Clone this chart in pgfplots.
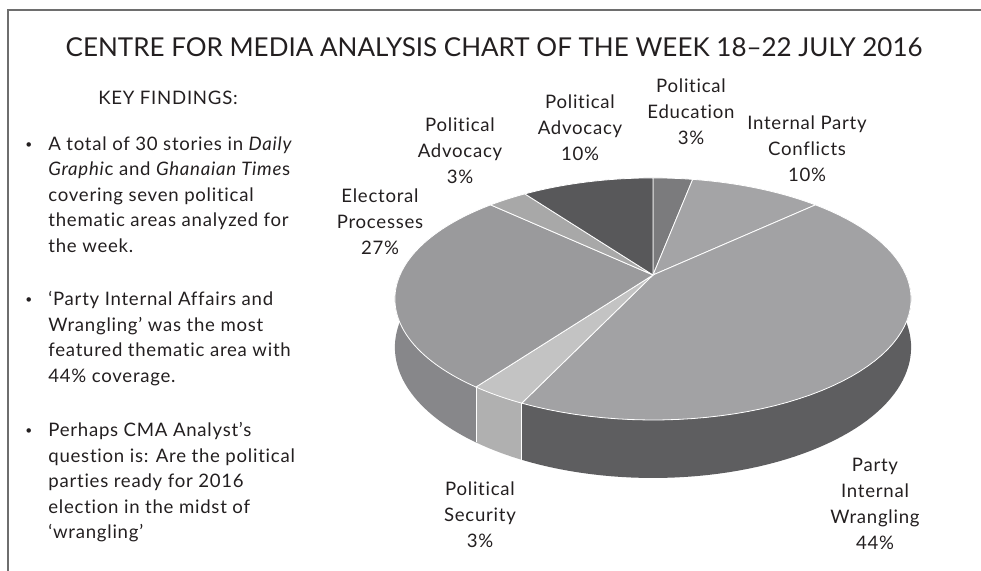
\documentclass[border=0pt]{standalone}
\usepackage{fontspec}
\setmainfont{Lato}[Ligatures={NoCommon}]
\usepackage{pgfplots}
\usepackage{pgfplotstable}
\pgfplotsset{compat=1.18}
\usepgfplotslibrary{fillbetween}

\definecolor{cEd}{HTML}{7B7B7D}
\definecolor{cIPC}{HTML}{A4A4A6}
\definecolor{cWr}{HTML}{A2A2A4}
\definecolor{cSec}{HTML}{C3C3C3}
\definecolor{cEl}{HTML}{9A9A9C}
\definecolor{cAdA}{HTML}{A8A8A8}
\definecolor{cAdB}{HTML}{58585A}
\definecolor{sWr}{HTML}{5E5E60}
\definecolor{sSec}{HTML}{B0B0B0}
\definecolor{sEl}{HTML}{87878A}
\definecolor{framec}{HTML}{6E6E6E}
\definecolor{txt}{HTML}{231F20}

\pgfplotstableread{
label pct
Education 3
Conflicts 10
Wrangling 44
Security 3
Electoral 27
AdvocacyA 3
AdvocacyB 10
}\piedata

\tikzset{declare function={
 PX(\a)=653+253*cos(\a)/(1+0.198*sin(\a));
 PY(\a)=275-116.3*sin(\a)/(1+0.198*sin(\a));
 PB(\a)=275+(46.5-116.3*sin(\a))/(1+0.198*sin(\a));
}}

\newcommand\bnd[1]{\csname bnd#1\endcsname}
\newcommand\pieslice[3]{\addplot[fill=#3, draw=white, line width=0.4pt, domain=#1:#2, samples=60, variable=\t] ({PX(\t)},{PY(\t)}) -- (axis cs:653,275) -- cycle;}
\newcommand\pieside[4]{%
 \addplot[draw=none, name path=#4t, domain=#1:#2, samples=60, variable=\t] ({PX(\t)},{PY(\t)});
 \addplot[draw=none, name path=#4b, domain=#1:#2, samples=60, variable=\t] ({PX(\t)},{PB(\t)});
 \addplot[fill=#3, draw=none] fill between[of=#4t and #4b];
}
\newcommand\bodyfont{\fontsize{9.3}{13}\selectfont\addfontfeatures{LetterSpace=4}}
\newcommand\tl[3]{\node[anchor=base west, inner sep=0pt] at (axis cs:#1,#2) {#3};}
\newcommand\bul[1]{\node[anchor=base west, inner sep=0pt] at (axis cs:25,#1) {\raisebox{1.2pt}{\fontsize{6}{6}\selectfont •}};}

\begin{document}
\xdef\acc{90}%
\expandafter\xdef\csname bnd0\endcsname{90}%
\foreach \i in {0,...,6}{%
  \pgfplotstablegetelem{\i}{pct}\of\piedata
  \pgfmathsetmacro\nacc{\acc-3.6*\pgfplotsretval}%
  \xdef\acc{\nacc}%
  \pgfmathtruncatemacro\j{\i+1}%
  \expandafter\xdef\csname bnd\j\endcsname{\nacc}%
}%
\begin{tikzpicture}
\begin{axis}[width=490.5pt,height=285.5pt,scale only axis,
  xmin=0,xmax=981,ymin=0,ymax=571,y dir=reverse,
  axis lines=none,ticks=none,clip=false]
% frame
\draw[framec, line width=1pt] (axis cs:8,571) -- (axis cs:8,10) -- (axis cs:981,10);
% sides
\pieside{\bnd{3}}{0}{sWr}{wr}
\pieside{\bnd{4}}{\bnd{3}}{sSec}{se}
\pieside{-180}{\bnd{4}}{sEl}{el}
\addplot[white, line width=0.4pt, domain=0:1, samples=2] ({PX(\bnd{3})},{PY(\bnd{3})+x*46.5/(1+0.198*sin(\bnd{3}))});
\addplot[white, line width=0.4pt, domain=0:1, samples=2] ({PX(\bnd{4})},{PY(\bnd{4})+x*46.5/(1+0.198*sin(\bnd{4}))});
% top faces
\pieslice{\bnd{1}}{\bnd{0}}{cEd}
\pieslice{\bnd{2}}{\bnd{1}}{cIPC}
\pieslice{\bnd{3}}{\bnd{2}}{cWr}
\pieslice{\bnd{4}}{\bnd{3}}{cSec}
\pieslice{\bnd{5}}{\bnd{4}}{cEl}
\pieslice{\bnd{6}}{\bnd{5}}{cAdA}
\pieslice{\bnd{7}}{\bnd{6}}{cAdB}
% title
\node[txt, font=\fontsize{13}{15}\selectfont] at (axis cs:494,47) {CENTRE FOR MEDIA ANALYSIS CHART OF THE WEEK 18–22 JULY 2016};
% slice labels
\begin{scope}[every node/.style={txt, align=center, font=\bodyfont}]
\node at (axis cs:691,112) {Political\\Education\\3\%};
\node at (axis cs:807,149) {Internal Party\\Conflicts\\10\%};
\node at (axis cs:580,128) {Political\\Advocacy\\10\%};
\node at (axis cs:460,151) {Political\\Advocacy\\3\%};
\node at (axis cs:380,222) {Electoral\\Processes\\27\%};
\node at (axis cs:480,515) {Political\\Security\\3\%};
\node at (axis cs:875,504) {Party\\Internal\\Wrangling\\44\%};
\end{scope}
% key findings
\begin{scope}[every node/.append style={txt, font=\bodyfont}]
\node at (axis cs:168,98) {KEY FINDINGS:};
\bul{150.5}
\tl{48}{150.5}{A total of 30 stories in \textit{Daily}}
\tl{48}{176}{\textit{Graphi}c and \textit{Ghanaian Time}s}
\tl{48}{201.5}{covering seven political}
\tl{48}{227}{thematic areas analyzed for}
\tl{48}{252.5}{the week.}
\bul{306}
\tl{48}{306}{‘Party Internal Affairs and}
\tl{48}{331.5}{Wrangling’ was the most}
\tl{48}{357}{featured thematic area with}
\tl{48}{382.5}{44\% coverage.}
\bul{437}
\tl{48}{437}{Perhaps CMA Analyst’s}
\tl{48}{462.5}{question is: Are the political}
\tl{48}{488}{parties ready for 2016}
\tl{48}{513.5}{election in the midst of}
\tl{48}{539}{‘wrangling’}
\end{scope}
\end{axis}
\pgfresetboundingbox
\path (0,0) rectangle (490.5pt,285.5pt);
\end{tikzpicture}
\end{document}
